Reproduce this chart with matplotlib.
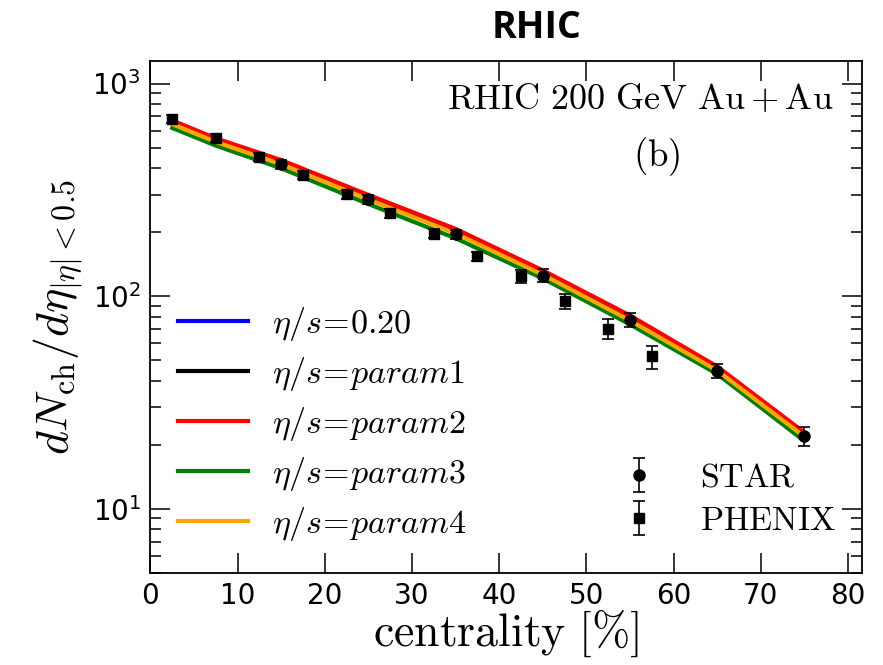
import matplotlib
matplotlib.use("Agg")
import matplotlib.pyplot as plt
import numpy as np

plt.rcParams['mathtext.fontset'] = 'cm'
plt.rcParams['font.family'] = ['DejaVu Sans']

# ---- model curves ----
cent_model = [2.5, 7.5, 15, 25, 35, 45, 55, 65, 75]
blue_020 = [657, 541, 426, 292, 202, 129, 78.9, 45.6, 22.3]
black_p1 = [655, 539, 425, 291, 201, 128.5, 78.5, 45.4, 22.2]
red_p2 = [670, 552, 436, 299, 207, 132, 81.0, 46.6, 22.8]
green_p3 = [618, 510, 399, 271, 187, 121, 73.6, 43.0, 20.8]
orange_p4 = [644, 531, 417, 285, 197, 126, 76.8, 44.6, 21.8]

# ---- data ----
star_cent = [15, 25, 35, 45, 55, 65, 75]
star_val = [418, 285, 195, 125, 77.6, 44.6, 22.0]
star_err = [20, 14, 10, 9, 6, 3.5, 2.3]

phenix_cent = [2.5, 7.5, 12.5, 17.5, 22.5, 27.5, 32.5, 37.5, 42.5, 47.5, 52.5, 57.5]
phenix_val = [679, 553, 453, 371, 301, 245, 197, 154, 124, 94.7, 70.2, 52]
phenix_err = [30, 25, 20, 17, 14, 11, 9, 8, 9, 8, 7.5, 6.5]

labels = [r'$\eta/s\!=\!0.20$', r'$\eta/s\!=\!param1$', r'$\eta/s\!=\!param2$',
          r'$\eta/s\!=\!param3$', r'$\eta/s\!=\!param4$']

fig = plt.figure(figsize=(8.83, 6.65), dpi=100)
ax = fig.add_axes([0.1704, 0.1388, 0.8058, 0.7699])

lw = 3.0
lb, = ax.plot(cent_model, blue_020, color='blue', lw=lw, zorder=2)
lk, = ax.plot(cent_model, black_p1, color='black', lw=lw, zorder=2)
lr, = ax.plot(cent_model, red_p2, color='red', lw=lw, zorder=3)
lg, = ax.plot(cent_model, green_p3, color='green', lw=lw, zorder=3)
lo, = ax.plot(cent_model, orange_p4, color='orange', lw=lw, zorder=4)

es = ax.errorbar(star_cent, star_val, yerr=star_err, fmt='o', color='black',
                 ms=8, capsize=4.5, elinewidth=1.2, capthick=1.2, zorder=5)
ep = ax.errorbar(phenix_cent, phenix_val, yerr=phenix_err, fmt='s', color='black',
                 ms=7.5, capsize=4.5, elinewidth=1.2, capthick=1.2, zorder=5)

ax.set_yscale('log')
ax.set_xlim(0, 81.6)
ax.set_ylim(5, 1280)
ax.set_xticks([0, 10, 20, 30, 40, 50, 60, 70, 80])

ax.tick_params(which='both', direction='in', top=True, right=True, labelsize=20, width=1.1)
ax.tick_params(which='major', length=14.5, pad=7)
ax.tick_params(which='minor', length=8)
ax.tick_params(axis='x', which='minor', bottom=False, top=False)
for s in ax.spines.values():
    s.set_linewidth(1.3)

ax.set_xlabel(r'$\mathrm{centrality\ [\%]}$', fontsize=33, labelpad=-2)
ax.set_ylabel(r'$dN_{\rm ch}/d\eta_{|\eta|<0.5}$', fontsize=33, labelpad=5)

ax.text(0.96, 0.925, r'$\mathrm{RHIC\ 200\ GeV\ Au+Au}$', transform=ax.transAxes,
        ha='right', va='center', fontsize=26)
ax.text(0.712, 0.812, r'$\mathrm{(b)}$', transform=ax.transAxes,
        ha='center', va='center', fontsize=26.5)

leg1 = ax.legend([lb, lk, lr, lg, lo], labels, loc='center left',
                 bbox_to_anchor=(0.0387, 0.290), frameon=False, fontsize=24.5,
                 handlelength=2.06, handletextpad=0.7, labelspacing=0.35,
                 borderpad=0, borderaxespad=0)
ax.add_artist(leg1)
leg2 = ax.legend([es, ep], [r'$\mathrm{STAR}$', r'$\mathrm{PHENIX}$'], loc='center left',
                 bbox_to_anchor=(0.651, 0.144), frameon=False, fontsize=24.5,
                 handlelength=1.5, handletextpad=1.04, labelspacing=0.3,
                 borderpad=0, borderaxespad=0)

fig.text(537 / 883, 1 - 28 / 665, 'RHIC', fontsize=27, fontweight='bold',
         family=['Open Sans', 'DejaVu Sans'], ha='center', va='center')

fig.savefig('out.png', dpi=100)
